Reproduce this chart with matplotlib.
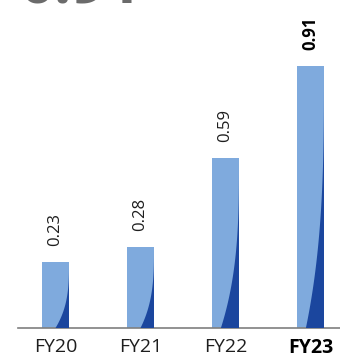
import matplotlib
matplotlib.use("Agg")
import matplotlib.pyplot as plt
import numpy as np

categories = ["FY20", "FY21", "FY22", "FY23"]
values = [0.23, 0.28, 0.59, 0.91]
value_labels = ["0.23", "0.28", "0.59", "0.91"]
headline = "0.91"

LIGHT = "#7faadd"
DARK = "#1b469e"
TEXT = "#1e1e1e"

plt.rcParams['font.family'] = ['Open Sans', 'DejaVu Sans']

fig = plt.figure(figsize=(3.4, 3.62), dpi=100)
ax = fig.add_axes([18 / 340, 34 / 362, 1 - 18 / 340, 328 / 362])

x = np.arange(len(categories))
bars = ax.bar(x, values, width=27 / 85, color=LIGHT, zorder=2)

# dark swoosh at the bottom-right of each bar
for b, v in zip(bars, values):
    bx, bw, bh = b.get_x(), b.get_width(), b.get_height()
    right = bx + bw
    d0 = 0.5 if v < 0.4 else 0.67
    t = np.linspace(0, 1, 80)
    xs = right - d0 * bw * (1 - t) ** 3.0
    ys = t * bh
    px = np.concatenate([xs, [right, right]])
    py = np.concatenate([ys, [bh, 0]])
    ax.fill(px, py, color=DARK, lw=0, zorder=3)

ax.set_xlim((18 - 55.5) / 85, (340 - 55.5) / 85)
ax.set_ylim(0, 328 / 288)

for i, (b, lab) in enumerate(zip(bars, value_labels)):
    bold = i == len(values) - 1
    ax.annotate(lab, (b.get_x() + b.get_width() / 2, b.get_height()),
                xytext=(0, 11.5), textcoords="offset points",
                rotation=90, ha="center", va="bottom", fontsize=12,
                color="#000000" if bold else TEXT,
                fontweight="bold" if bold else "normal")

ax.set_xticks(x)
ax.set_xticklabels(categories, fontsize=14, color=TEXT)
ax.get_xticklabels()[-1].set_fontweight("bold")
ax.get_xticklabels()[-1].set_color("#000000")
ax.tick_params(axis="x", length=0, pad=7)
ax.set_yticks([])
for s in ["top", "right", "left"]:
    ax.spines[s].set_visible(False)
ax.spines["bottom"].set_color("#7f7f7f")
ax.spines["bottom"].set_linewidth(1.2)
ax.patch.set_alpha(0)

# cropped headline at the very top
fig.text(20 / 340, 1 - 3 / 362, headline, fontsize=44, fontweight="bold",
         color="#6b6b6b", ha="left", va="baseline")

fig.savefig("out.png", dpi=100)
